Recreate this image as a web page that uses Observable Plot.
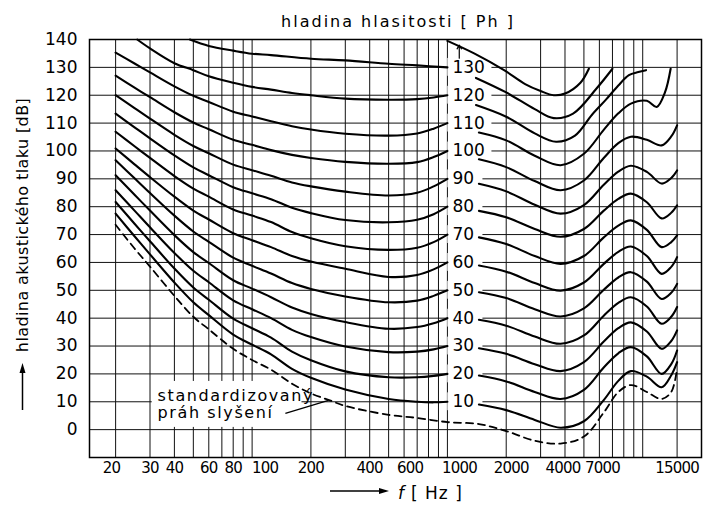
<!DOCTYPE html>
<html><head><meta charset="utf-8">
<script src="https://cdn.jsdelivr.net/npm/d3@7"></script>
<script src="https://cdn.jsdelivr.net/npm/@observablehq/plot@0.6"></script>
<style>
body{margin:0;background:#fff}
.xlab text{letter-spacing:-0.8px}
.note text{letter-spacing:1.6px}
</style>
</head><body><div id="chart"></div>
<script>
// ---- tick / label data ----
const yTicks = [0,10,20,30,40,50,60,70,80,90,100,110,120,130,140];
const hGrid = [0,10,20,30,40,50,60,70,80,90,100,110,120,130];
const vGrid = [20,30,40,50,60,70,80,90,100,200,300,400,500,600,700,800,900,1000,2000,3000,4000,5000,6000,7000,8000,9000,10000,15000];
const xTickLabels = [20,30,40,60,80,100,200,400,600,1000,2000,4000,7000,15000];
const phonLabels = [10,20,30,40,50,60,70,80,90,100,110,120,130];

// ---- left branches (20 Hz .. 1000 Hz) ----
const leftFreq = [20,25,30,40,50,60,80,100,125,160,200,300,500,700,850,1000];
const L10  = [77.5,69.4,62.9,52.8,45.7,41.1,34.1,30.5,27,21.8,18.6,14.4,11,10,9.8,10];
const L20  = [81.7,73.9,67.6,57.8,51,46.6,39.8,36.4,33,28,24.9,20.9,18.8,18.8,19.3,20];
const L30  = [85.9,78.6,72.6,63.4,57,52.9,46.4,43.2,40,35.8,33.2,29.8,27.8,28,28.8,30];
const L40  = [91.3,84.3,78.6,69.8,63.7,59.8,53.6,50.6,47.5,43.8,41.5,38.6,36.2,36.8,38.2,40];
const L50  = [96.7,90.2,84.9,76.8,71.1,67.4,61.7,58.8,56,52.6,50.5,47.8,45.7,46.3,48,50];
const L60  = [100.9,95.2,90.6,83.6,78.6,75.4,70.5,68,65.5,62.3,60.3,57.7,54.8,55.5,57.5,60];
const L70  = [106.9,101.7,97.5,91,86.5,83.6,79,76.8,74.5,70.9,68.7,65.8,64.5,65.3,67.3,70];
const L80  = [113.4,108.5,104.5,98.4,94.1,91.3,87,84.8,82.7,79.6,77.7,75.2,74.4,75.3,77.3,80];
const L90  = [120,115.4,111.6,105.8,101.8,99.2,95.1,93.1,91.1,88.7,87.3,85.4,84,85,87.3,90];
const L100 = [127,122.7,119.3,113.9,110.2,107.8,104,102.2,100.3,98.6,97.5,96.1,95.4,96,97.8,100];
const L110 = [135.3,131.4,128.2,123.2,119.8,117.6,114.1,112.4,110.7,108.9,107.7,106.2,105.5,106.3,108,110];
const L120Freq = [25.8,30,40,50,60,80,100,125,160,200,300,500,700,850,1000];
const L120 = [140,136.8,131.5,129,126.8,124.5,123,122,120.8,120,118.8,118.4,118.6,119.2,120];
const L130Freq = [48,60,80,100,125,200,300,500,700,1000];
const L130 = [140,137.7,136,134.9,134.4,133.1,132.5,131.3,130.7,130];

// ---- right branches (after the labels .. 15 kHz) ----
const rightFreq = [1450,2000,2800,3800,5000,6300,7500,8700,10500,12500,14000,15000];
const R10  = [9,7,3.5,0.7,3,10.5,17.5,21,19,15.2,19.5,24.2];
const R20  = [19.4,17.3,13.5,11,14.3,22.2,27.4,29.6,26.3,20,23.5,28.4];
const R30  = [29.2,27.2,23.5,21,24.2,31.5,36.4,38.5,35.2,29,31.8,35.6];
const R40  = [39.4,37.3,33.4,30.8,33.8,40.8,45.5,47.5,44.2,38,40.5,44];
const R50  = [49.3,47.2,43.2,40.6,43.5,50.1,54.6,56.5,53.1,46.9,49.1,52.3];
const R60  = [58.9,56.7,52.6,49.9,52.8,59.4,63.8,65.7,62.3,55.9,58.4,61.9];
const R70  = [69,66.6,62.3,59.5,62.3,68.9,73.2,75.1,71.7,65.5,67.3,69.7];
const R80  = [78.5,76.2,72,69.2,72,78.5,82.8,84.7,81.6,75.8,77.8,80.5];
const R90  = [88.2,85.5,80.7,77.5,80.6,87.8,92.6,94.7,92.5,88.3,90.3,93];
const R100 = [97,94.2,89.2,85.9,89.4,97.4,102.8,105.1,104,102,105.2,109.2];
const R110Freq = [1450,2000,2800,3800,5000,6300,7500,8700,10500,11800,13000,13900];
const R110 = [106.6,103.8,98.3,94.9,99,107.5,113.5,117,118,115.8,121,129.5];
const R120Freq = [1400,2000,2800,3600,4500,5500,6500,7500,8500,9500,10400];
const R120 = [116.5,112.3,106.3,103.3,105.5,113,118.5,123.5,127.2,128.3,129];
const R130Freq = [1400,2000,2800,3500,4400,5800,7000];
const R130 = [126.2,121,115,111.8,113.4,122.4,129.5];
const R140Freq = [1000,1370,1950,2500,3000,3500,4000,4800,5300];
const R140 = [139.5,135,129,124,121.5,120,120.6,124.5,129.5];

// ---- standardised hearing threshold (dashed) ----
const thrFreq = [20,25,30,40,50,60,80,100,125,160,200,250,300,500,700,1000,1450,2000,2800,3800,5000,6300,7500,8700,10500,12500,14000,15000];
const thrDb   = [73.5,65,58.5,48,40.5,36,29,25,21.5,16.5,13,10.5,8.5,5.3,4.2,2.7,2,-0.5,-4,-5,-2.5,6,13.5,16,13.5,11,13.5,22];

// ---- annotations ----
const thrNote = "standardizovaný\npráh slyšení";
const thrNoteAt = {f: 32.8, db: 9.3};
const thrLeader = {f1: 148, db1: 5.8, f2: 246, db2: 10.5};
const noteBox = {f1: 30.8, f2: 180, db1: 0.8, db2: 17.3};
const upArrow = {f: 1150, db1: 133.3, db2: 138};

// build rows
const rows = [];
function add(id, fs, vs){ fs.forEach((f,i)=>rows.push({id, f, db: vs[i]})); }
const leftSets = [L10,L20,L30,L40,L50,L60,L70,L80,L90,L100,L110];
leftSets.forEach((v,i)=>add("L"+(i+1)*10, leftFreq, v));
add("L120", L120Freq, L120);
add("L130", L130Freq, L130);
const rightSets = [R10,R20,R30,R40,R50,R60,R70,R80,R90,R100];
rightSets.forEach((v,i)=>add("R"+(i+1)*10, rightFreq, v));
add("R110", R110Freq, R110);
add("R120", R120Freq, R120);
add("R130", R130Freq, R130);
add("R140", R140Freq, R140);
const thrRows = thrFreq.map((f,i)=>({f, db: thrDb[i]}));

const xLabelNudge = {20:-4, 100:13, 600:6, 1000:12, 2000:5, 4000:-2, 7000:-10};

const W = 712, H = 509;
const chart = Plot.plot({
  width: W, height: H,
  marginLeft: 89, marginRight: 11, marginTop: 39, marginBottom: 52,
  style: {fontFamily: "'DejaVu Sans', sans-serif", fontSize: "16px", background: "white", color: "black"},
  x: {type: "log", domain: [14.7, 20000], axis: null},
  y: {domain: [-10, 140], axis: null},
  marks: [
    Plot.ruleY(hGrid, {y: d => d, stroke: "#111", strokeWidth: 1}),
    Plot.ruleX(vGrid, {x: d => d, stroke: "#111", strokeWidth: 1}),
    Plot.rect([noteBox], {x1: "f1", x2: "f2", y1: "db1", y2: "db2", fill: "white"}),
    Plot.rect(phonLabels, {x1: () => 1005, x2: d => d >= 100 ? 1690 : 1520, y1: d => d - 3.2, y2: d => d + 3.2, fill: "white"}),
    Plot.line(rows, {x: "f", y: "db", z: "id", curve: "catmull-rom", stroke: "black", strokeWidth: 2.1}),
    Plot.line(thrRows, {x: "f", y: "db", curve: "catmull-rom", stroke: "black", strokeWidth: 1.8, strokeDasharray: "7 5"}),
    Plot.frame({stroke: "black", strokeWidth: 1.5}),
    Plot.text(yTicks, {y: d => d, text: d => String(d), frameAnchor: "left", dx: -12, textAnchor: "end", fontSize: 17}),
    ...xTickLabels.map(t => Plot.text([t], {x: d => d, text: d => String(d), frameAnchor: "bottom", dy: 15, dx: xLabelNudge[t] || 0, fontSize: 15, className: "xlab"})),
    Plot.text(phonLabels, {x: () => 1000, y: d => d, text: d => String(d), textAnchor: "start", dx: 5, fontSize: 17}),
    Plot.text([thrNote], {x: () => thrNoteAt.f, y: () => thrNoteAt.db, text: d => d, textAnchor: "start", fontSize: 16, lineHeight: 1.08, className: "note"}),
    Plot.link([thrLeader], {x1: "f1", y1: "db1", x2: "f2", y2: "db2", stroke: "black", strokeWidth: 1.3}),
    Plot.arrow([upArrow], {x1: "f", x2: "f", y1: "db1", y2: "db2", stroke: "black", strokeWidth: 1.2, headLength: 6})
  ]
});
document.getElementById("chart").appendChild(chart);

const svg = d3.select(chart);
svg.append("text").attr("x", 398).attr("y", 27).attr("text-anchor", "middle")
  .attr("font-size", 16).attr("letter-spacing", 2).attr("fill", "black").text("hladina hlasitosti [ Ph ]");
svg.append("text").attr("transform", "translate(28,225) rotate(-90)").attr("text-anchor", "middle")
  .attr("font-size", 16).attr("letter-spacing", 0.4).attr("fill", "black").text("hladina akustického tlaku [dB]");
// arrows beside axis titles
svg.append("line").attr("x1", 22.5).attr("x2", 22.5).attr("y1", 410).attr("y2", 370).attr("stroke", "black").attr("stroke-width", 1.5);
svg.append("path").attr("d", "M22.5,363 L19.5,373 L25.5,373 Z").attr("fill", "black");
svg.append("line").attr("x1", 330).attr("x2", 381).attr("y1", 491).attr("y2", 491).attr("stroke", "black").attr("stroke-width", 1.5);
svg.append("path").attr("d", "M389,491 L379,488 L379,494 Z").attr("fill", "black");
const xl = svg.append("text").attr("x", 398).attr("y", 499).attr("text-anchor", "start").attr("font-size", 17).attr("fill", "black");
xl.append("tspan").attr("font-style", "italic").text("f");
xl.append("tspan").attr("dx", 7).attr("letter-spacing", 1).text("[ Hz ]");
</script></body></html>
